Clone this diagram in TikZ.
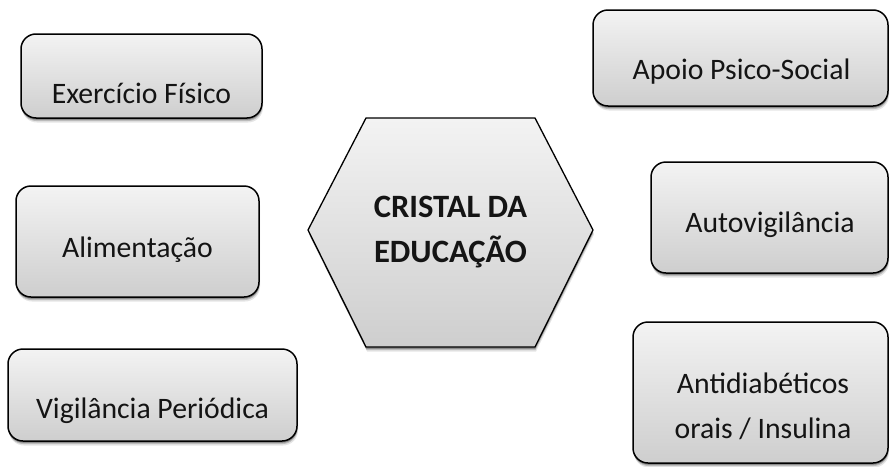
\documentclass[tikz,border=0pt]{standalone}
\usepackage{fontspec}
\setmainfont{Carlito}
\usetikzlibrary{shadows}
\definecolor{gtop}{RGB}{243,243,243}
\definecolor{gbot}{RGB}{206,206,206}
\definecolor{txt}{RGB}{20,20,20}
\begin{document}
\begin{tikzpicture}[x=1pt,y=-1pt,
  sh/.style={drop shadow={shadow xshift=1pt,shadow yshift=-4.5pt,opacity=0.10,fill=black},
             drop shadow={shadow xshift=0.5pt,shadow yshift=-3pt,opacity=0.18,fill=black},
             drop shadow={shadow xshift=0.3pt,shadow yshift=-1.8pt,opacity=0.25,fill=black}},
  box/.style={sh, draw=black, line width=1.5pt, rounded corners=15pt,
              top color=gtop, bottom color=gbot, inner sep=0pt},
  lbl/.style={font=\fontsize{29.7}{34}\selectfont, anchor=base, inner sep=0pt, text=txt},
  blbl/.style={font=\fontsize{32.6}{36}\selectfont\bfseries, anchor=base, inner sep=0pt, text=txt},
  hexs/.style={sh, draw=black, line width=1.3pt, line join=miter,
              top color=gtop, bottom color=gbot}
]
\useasboundingbox[fill=white] (0,0) rectangle (890,466);

% left boxes
\node[box, minimum width=241pt, minimum height=84pt] (b1) at (141.5,76) {};
\node[lbl] (t1) at (141.5,103) {Exercício Físico};

\node[box, minimum width=243pt, minimum height=111pt] (b2) at (137.5,241.5) {};
\node[lbl] (t2) at (137.5,257) {Alimentação};

\node[box, minimum width=289pt, minimum height=92pt] (b3) at (152.5,395) {};
\node[lbl] (t3) at (152.5,418) {Vigilância Periódica};

% right boxes
\node[box, minimum width=295pt, minimum height=96pt] (b4) at (740.5,58) {};
\node[lbl] (t4) at (741.5,79) {Apoio Psico-Social};

\node[box, minimum width=237pt, minimum height=111pt] (b5) at (769.5,217.5) {};
\node[lbl] (t5) at (770,232) {Autovigilância};

\node[box, minimum width=255pt, minimum height=141pt] (b6) at (760.5,392.5) {};
\node[lbl] (t6a) at (763,393) {Antidiabéticos};
\node[lbl] (t6b) at (763,438) {orais / Insulina};

% central hexagon
\path[hexs] (308,230) -- (366,118) -- (535,118) -- (593,230) -- (535,347) -- (366,347) -- cycle;
\node[blbl] (h1) at (450.5,217) {CRISTAL DA};
\node[blbl] (h2) at (450.5,262) {EDUCAÇÃO};
\end{tikzpicture}
\end{document}
